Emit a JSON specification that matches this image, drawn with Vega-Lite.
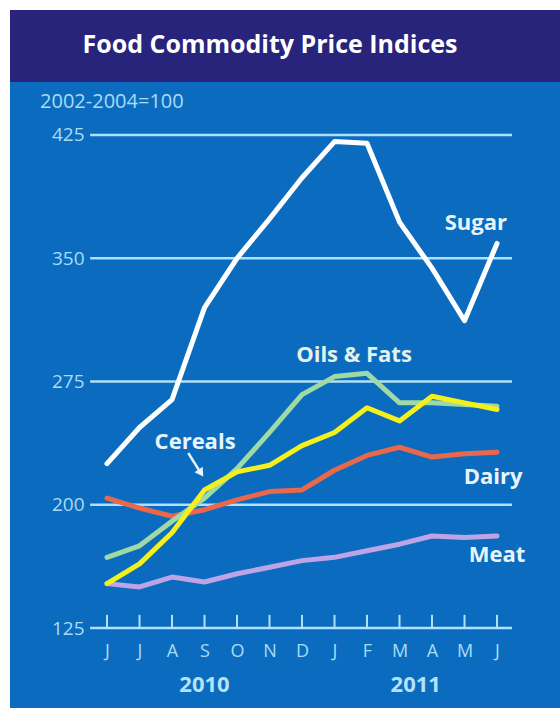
{
  "$schema": "https://vega.github.io/schema/vega-lite/v6.json",
  "background": "#ffffff",
  "padding": {"left": 10, "top": 10, "right": 0, "bottom": 3},
  "spacing": 0,
  "config": {"view": {"stroke": null}, "font": "Open Sans"},
  "datasets": {
    "prices": [
      {"s": "Meat", "i": 0, "v": 152}, {"s": "Meat", "i": 1, "v": 150}, {"s": "Meat", "i": 2, "v": 156}, {"s": "Meat", "i": 3, "v": 153}, {"s": "Meat", "i": 4, "v": 158}, {"s": "Meat", "i": 5, "v": 162}, {"s": "Meat", "i": 6, "v": 166}, {"s": "Meat", "i": 7, "v": 168}, {"s": "Meat", "i": 8, "v": 172}, {"s": "Meat", "i": 9, "v": 176}, {"s": "Meat", "i": 10, "v": 181}, {"s": "Meat", "i": 11, "v": 180}, {"s": "Meat", "i": 12, "v": 181},
      {"s": "Dairy", "i": 0, "v": 204}, {"s": "Dairy", "i": 1, "v": 198}, {"s": "Dairy", "i": 2, "v": 193}, {"s": "Dairy", "i": 3, "v": 197}, {"s": "Dairy", "i": 4, "v": 203}, {"s": "Dairy", "i": 5, "v": 208}, {"s": "Dairy", "i": 6, "v": 209}, {"s": "Dairy", "i": 7, "v": 221}, {"s": "Dairy", "i": 8, "v": 230}, {"s": "Dairy", "i": 9, "v": 235}, {"s": "Dairy", "i": 10, "v": 229}, {"s": "Dairy", "i": 11, "v": 231}, {"s": "Dairy", "i": 12, "v": 232},
      {"s": "Oils & Fats", "i": 0, "v": 168}, {"s": "Oils & Fats", "i": 1, "v": 175}, {"s": "Oils & Fats", "i": 2, "v": 190}, {"s": "Oils & Fats", "i": 3, "v": 204}, {"s": "Oils & Fats", "i": 4, "v": 222}, {"s": "Oils & Fats", "i": 5, "v": 244}, {"s": "Oils & Fats", "i": 6, "v": 267}, {"s": "Oils & Fats", "i": 7, "v": 278}, {"s": "Oils & Fats", "i": 8, "v": 280}, {"s": "Oils & Fats", "i": 9, "v": 262}, {"s": "Oils & Fats", "i": 10, "v": 262}, {"s": "Oils & Fats", "i": 11, "v": 261}, {"s": "Oils & Fats", "i": 12, "v": 260},
      {"s": "Cereals", "i": 0, "v": 152}, {"s": "Cereals", "i": 1, "v": 164}, {"s": "Cereals", "i": 2, "v": 183}, {"s": "Cereals", "i": 3, "v": 209}, {"s": "Cereals", "i": 4, "v": 220}, {"s": "Cereals", "i": 5, "v": 224}, {"s": "Cereals", "i": 6, "v": 236}, {"s": "Cereals", "i": 7, "v": 244}, {"s": "Cereals", "i": 8, "v": 259}, {"s": "Cereals", "i": 9, "v": 251}, {"s": "Cereals", "i": 10, "v": 266}, {"s": "Cereals", "i": 11, "v": 262}, {"s": "Cereals", "i": 12, "v": 258},
      {"s": "Sugar", "i": 0, "v": 225}, {"s": "Sugar", "i": 1, "v": 247}, {"s": "Sugar", "i": 2, "v": 264}, {"s": "Sugar", "i": 3, "v": 320}, {"s": "Sugar", "i": 4, "v": 350}, {"s": "Sugar", "i": 5, "v": 374}, {"s": "Sugar", "i": 6, "v": 399}, {"s": "Sugar", "i": 7, "v": 421}, {"s": "Sugar", "i": 8, "v": 420}, {"s": "Sugar", "i": 9, "v": 372}, {"s": "Sugar", "i": 10, "v": 344}, {"s": "Sugar", "i": 11, "v": 312}, {"s": "Sugar", "i": 12, "v": 359}
    ],
    "months": [
      {"i": 0, "m": "J", "year": "2010"}, {"i": 1, "m": "J", "year": "2010"}, {"i": 2, "m": "A", "year": "2010"}, {"i": 3, "m": "S", "year": "2010"}, {"i": 4, "m": "O", "year": "2010"}, {"i": 5, "m": "N", "year": "2010"}, {"i": 6, "m": "D", "year": "2010"},
      {"i": 7, "m": "J", "year": "2011"}, {"i": 8, "m": "F", "year": "2011"}, {"i": 9, "m": "M", "year": "2011"}, {"i": 10, "m": "A", "year": "2011"}, {"i": 11, "m": "M", "year": "2011"}, {"i": 12, "m": "J", "year": "2011"}
    ],
    "grid": [{"v": 125}, {"v": 200}, {"v": 275}, {"v": 350}, {"v": 425}]
  },
  "vconcat": [
    {
      "width": 550,
      "height": 72,
      "view": {"fill": "#28247c", "stroke": null},
      "data": {"values": [{"t": "Food Commodity Price Indices"}]},
      "mark": {"type": "text", "font": "Open Sans", "fontSize": 25, "fontWeight": "bold", "color": "#ffffff", "dx": -15, "dy": -1},
      "encoding": {"text": {"field": "t"}}
    },
    {
      "width": 550,
      "height": 626,
      "view": {"fill": "#0b6cbf", "stroke": null},
      "layer": [
        {
          "data": {"name": "grid"},
          "mark": {"type": "rule", "color": "#b0e0fa", "strokeWidth": 2.5},
          "encoding": {
            "y": {"field": "v", "type": "quantitative", "title": null, "scale": {"domain": [76.32, 457.25], "nice": false, "zero": false},
              "axis": {"values": [125, 200, 275, 350, 425], "offset": -74, "zindex": 1, "domain": false, "ticks": false, "tickSize": 0, "labelPadding": 0, "grid": false, "title": null, "labelFont": "Open Sans", "labelFontSize": 19, "labelColor": "#a8dcf6"}},
            "x": {"datum": -0.52, "type": "quantitative", "title": null, "scale": {"domain": [-2.985, 13.938], "nice": false, "zero": false}},
            "x2": {"datum": 12.46}
          }
        },
        {
          "data": {"name": "months"},
          "mark": {"type": "rule", "color": "#b0e0fa", "strokeWidth": 2},
          "encoding": {
            "x": {"field": "i", "type": "quantitative", "title": null,
              "axis": {"values": [0, 1, 2, 3, 4, 5, 6, 7, 8, 9, 10, 11, 12], "labelExpr": "['J','J','A','S','O','N','D','J','F','M','A','M','J'][datum.value]", "offset": -80, "zindex": 1, "domain": false, "ticks": false, "tickSize": 0, "labelPadding": 14, "grid": false, "title": null, "labelFlush": false, "labelOverlap": false, "labelFont": "Open Sans", "labelFontSize": 18, "labelColor": "#a8dcf6"}},
            "y": {"datum": 125, "title": null},
            "y2": {"datum": 133}
          }
        },
        {
          "data": {"name": "prices"},
          "mark": {"type": "line", "strokeWidth": 5, "strokeCap": "round", "strokeJoin": "round"},
          "encoding": {
            "x": {"field": "i", "type": "quantitative", "title": null},
            "y": {"field": "v", "type": "quantitative", "title": null},
            "color": {"field": "s", "type": "nominal", "legend": null,
              "scale": {"domain": ["Meat", "Dairy", "Oils & Fats", "Cereals", "Sugar"], "range": ["#bca4e6", "#e9684b", "#9fd9a3", "#f4f01c", "#ffffff"]}}
          }
        },
        {
          "data": {"name": "months"},
          "transform": [{"aggregate": [{"op": "mean", "field": "i", "as": "mid"}], "groupby": ["year"]}],
          "mark": {"type": "text", "fontSize": 22, "fontWeight": "bold", "color": "#b5e2f8", "baseline": "middle"},
          "encoding": {
            "x": {"field": "mid", "type": "quantitative", "title": null},
            "y": {"datum": 90.3, "title": null},
            "text": {"field": "year"}
          }
        },
        {
          "data": {"values": [{"t": "2002-2004=100"}]},
          "mark": {"type": "text", "fontSize": 20, "color": "#a8dcf6", "align": "left", "baseline": "middle"},
          "encoding": {"x": {"datum": -2.06, "title": null}, "y": {"datum": 445.1, "title": null}, "text": {"field": "t"}}
        },
        {
          "data": {"values": [{"t": "Sugar"}]},
          "mark": {"type": "text", "fontSize": 22, "fontWeight": "bold", "color": "#e8f4fb", "baseline": "middle"},
          "encoding": {"x": {"datum": 11.35, "title": null}, "y": {"datum": 371.5, "title": null}, "text": {"field": "t"}}
        },
        {
          "data": {"values": [{"t": "Oils & Fats"}]},
          "mark": {"type": "text", "fontSize": 22, "fontWeight": "bold", "color": "#e4f3ea", "baseline": "middle"},
          "encoding": {"x": {"datum": 7.6, "title": null}, "y": {"datum": 291.1, "title": null}, "text": {"field": "t"}}
        },
        {
          "data": {"values": [{"t": "Cereals"}]},
          "mark": {"type": "text", "fontSize": 22, "fontWeight": "bold", "color": "#e8f4fb", "baseline": "middle"},
          "encoding": {"x": {"datum": 2.71, "title": null}, "y": {"datum": 238.2, "title": null}, "text": {"field": "t"}}
        },
        {
          "data": {"values": [{"t": "Dairy"}]},
          "mark": {"type": "text", "fontSize": 22, "fontWeight": "bold", "color": "#e8f4fb", "baseline": "middle"},
          "encoding": {"x": {"datum": 11.88, "title": null}, "y": {"datum": 216.9, "title": null}, "text": {"field": "t"}}
        },
        {
          "data": {"values": [{"t": "Meat"}]},
          "mark": {"type": "text", "fontSize": 22, "fontWeight": "bold", "color": "#e8f4fb", "baseline": "middle"},
          "encoding": {"x": {"datum": 12.0, "title": null}, "y": {"datum": 169.4, "title": null}, "text": {"field": "t"}}
        },
        {
          "data": {"values": [{"t": "arrow"}]},
          "mark": {"type": "rule", "color": "#e8f4fb", "strokeWidth": 2.5},
          "encoding": {"x": {"datum": 2.5, "title": null}, "y": {"datum": 231.5, "title": null}, "x2": {"datum": 2.83}, "y2": {"datum": 221.1}}
        },
        {
          "data": {"values": [{"t": "arrowhead"}]},
          "mark": {"type": "point", "shape": "triangle-down", "filled": true, "color": "#e8f4fb", "size": 95, "angle": 327, "opacity": 1},
          "encoding": {"x": {"datum": 2.89, "title": null}, "y": {"datum": 219.3, "title": null}}
        }
      ]
    }
  ]
}
